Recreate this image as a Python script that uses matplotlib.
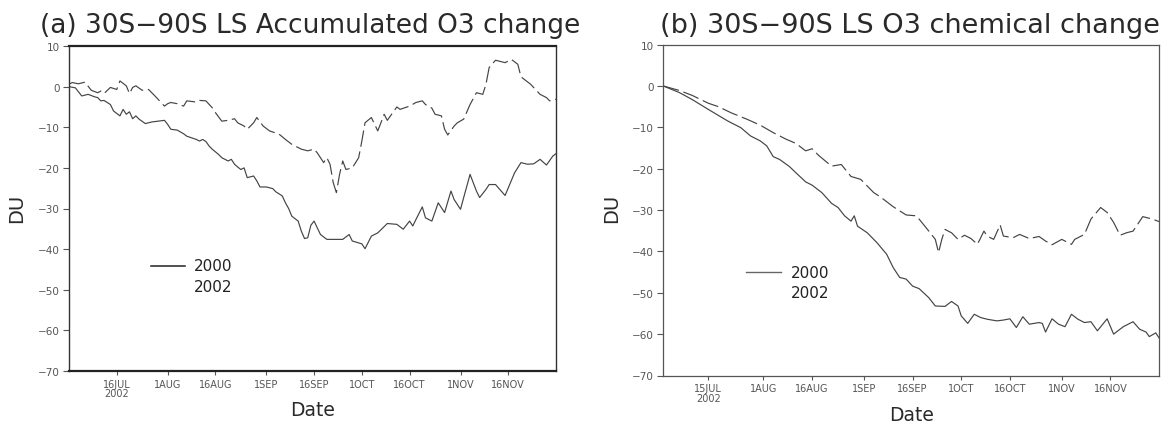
import numpy as np
import matplotlib.pyplot as plt

start = np.datetime64('2002-07-01')

# (a) accumulated O3 change, days counted from 1 July
a_days_2000 = [0, 2, 4, 6, 8, 9, 10, 11, 13, 14, 16, 17, 18, 19, 20, 21, 22, 24, 26, 28,
               30, 31, 32, 34, 36, 37, 40, 41, 42, 43, 44, 45, 47, 48, 50, 51, 52, 53, 54, 55,
               56, 58, 59, 60, 62, 64, 65, 67, 68, 69, 70, 72, 73, 74, 75, 76, 77, 79, 81, 84,
               86, 88, 89, 92, 93, 95, 97, 100, 103, 105, 107, 108, 109, 111, 112, 114, 116, 118, 120, 121,
               123, 124, 126, 128, 129, 131, 132, 134, 137, 140, 142, 144, 146, 148, 150, 152, 153]
a_vals_2000 = [0.0, -0.3, -2.3, -1.9, -2.5, -2.7, -3.5, -3.4, -4.4, -6.0, -7.2, -5.6, -6.8, -6.2, -7.9, -7.2, -8.0, -9.1, -8.7, -8.5,
               -8.3, -9.3, -10.5, -10.7, -11.6, -12.2, -13.0, -13.4, -13.0, -13.5, -14.6, -15.4, -16.7, -17.5, -18.3, -17.9, -19.1, -19.8, -20.4, -20.0,
               -22.4, -22.0, -23.2, -24.7, -24.7, -25.1, -25.9, -26.9, -28.6, -30.0, -31.9, -33.1, -35.6, -37.4, -37.2, -34.1, -33.1, -36.4, -37.6, -37.6,
               -37.6, -36.4, -38.0, -38.7, -39.9, -36.8, -36.0, -33.7, -33.9, -35.1, -33.1, -34.3, -32.7, -29.6, -32.3, -33.1, -28.6, -31.0, -25.7, -27.8,
               -30.2, -27.3, -21.6, -25.7, -27.3, -25.3, -24.1, -24.1, -26.8, -21.2, -18.7, -19.1, -19.0, -17.9, -19.3, -17.1, -16.5]

a_days_2002 = [0, 1, 3, 5, 7, 9, 10, 11, 13, 15, 16, 18, 19, 20, 21, 23, 25, 27, 30, 31,
               32, 34, 36, 37, 40, 41, 43, 45, 46, 48, 50, 52, 53, 55, 56, 58, 59, 61, 63, 66,
               68, 70, 73, 75, 77, 78, 80, 81, 82, 83, 84, 85, 86, 87, 89, 91, 92, 93, 95, 97,
               98, 99, 100, 103, 104, 107, 109, 111, 112, 114, 115, 117, 118, 119, 121, 122, 124, 126, 128, 130,
               131, 132, 134, 137, 139, 141, 142, 145, 148, 150, 151, 153]
a_vals_2002 = [0.6, 1.0, 0.7, 1.1, -0.9, -1.5, -1.1, -1.7, -0.2, -0.7, 1.4, 0.2, -1.7, -0.2, 0.2, -0.9, -0.7, -2.3, -4.8, -4.2,
               -3.9, -4.2, -4.8, -3.5, -3.8, -3.4, -3.5, -5.2, -6.4, -8.5, -8.3, -7.9, -8.9, -9.7, -10.5, -8.9, -7.6, -9.7, -10.9, -11.7,
               -13.0, -14.2, -15.4, -15.8, -15.4, -16.3, -18.7, -17.5, -19.1, -23.6, -26.1, -21.6, -18.3, -20.4, -20.0, -17.5, -13.4, -8.9, -7.6, -10.9,
               -8.9, -6.8, -8.3, -5.0, -5.6, -4.8, -3.9, -3.5, -4.4, -5.3, -6.8, -7.2, -10.5, -11.9, -9.7, -8.9, -8.0, -4.4, -1.5, -1.9,
               0.6, 4.7, 6.5, 5.9, 6.7, 5.5, 2.4, 0.6, -1.9, -2.7, -3.5, -3.1]

# (b) chemical O3 change
b_days_2000 = [0, 5, 9, 14, 20, 24, 27, 30, 32, 34, 36, 39, 41, 44, 46, 49, 52, 54, 56, 58,
               59, 60, 63, 66, 69, 71, 73, 75, 77, 79, 82, 84, 87, 89, 91, 92, 94, 96, 98, 100,
               103, 105, 107, 109, 111, 113, 116, 117, 118, 120, 122, 124, 126, 128, 130, 132, 134, 137, 139, 142,
               145, 147, 149, 150, 152, 153]
b_vals_2000 = [0.0, -1.6, -3.3, -5.7, -8.5, -10.1, -12.1, -13.3, -14.5, -17.1, -17.8, -19.5, -21.0, -23.2, -24.0, -25.8, -28.4, -29.4, -31.4, -32.7,
               -31.4, -33.9, -35.5, -37.9, -40.7, -43.9, -46.3, -46.7, -48.4, -49.0, -51.2, -53.2, -53.3, -52.1, -53.2, -55.6, -57.4, -55.2, -56.0, -56.4,
               -56.8, -56.6, -56.3, -58.4, -55.8, -57.6, -57.2, -57.4, -59.5, -56.3, -57.6, -58.2, -55.2, -56.4, -57.2, -57.0, -59.2, -56.3, -60.0, -58.2,
               -57.0, -58.8, -59.5, -60.6, -59.7, -60.9]

b_days_2002 = [0, 5, 9, 14, 17, 21, 26, 30, 34, 38, 41, 44, 46, 48, 52, 55, 58, 61, 65, 67,
               71, 75, 78, 79, 82, 84, 85, 86, 87, 89, 91, 93, 95, 97, 99, 100, 102, 104, 105, 108,
               110, 113, 116, 118, 120, 123, 126, 127, 130, 132, 135, 137, 139, 141, 143, 145, 148, 151, 153]
b_vals_2002 = [0.0, -1.1, -2.3, -4.2, -5.0, -6.5, -8.1, -9.5, -11.3, -12.9, -13.9, -15.7, -15.2, -16.8, -19.4, -19.0, -21.9, -22.6, -25.8, -26.8,
               -29.2, -31.2, -31.4, -32.2, -35.1, -37.1, -40.3, -37.1, -34.7, -35.5, -37.1, -36.1, -36.9, -38.3, -35.1, -36.3, -37.1, -33.6, -36.3, -36.7,
               -35.9, -36.9, -36.4, -37.5, -38.4, -37.1, -38.3, -37.1, -35.9, -32.2, -29.4, -30.6, -33.0, -36.1, -35.5, -35.1, -31.6, -32.2, -32.8]

# tick dates (days from 1 July) and their labels
a_tick_days = [15, 31, 46, 62, 77, 92, 107, 123, 138]
a_tick_labels = ['16JUL\n2002', '1AUG', '16AUG', '1SEP', '16SEP', '1OCT', '16OCT', '1NOV', '16NOV']
b_tick_days = [14, 31, 46, 62, 77, 92, 107, 123, 138]
b_tick_labels = ['15JUL\n2002', '1AUG', '16AUG', '1SEP', '16SEP', '1OCT', '16OCT', '1NOV', '16NOV']
y_ticks = [-70, -60, -50, -40, -30, -20, -10, 0, 10]


def to_dates(days):
    return start + np.array(days).astype('timedelta64[D]')


W, H = 1168, 427
fig = plt.figure(figsize=(W / 100, H / 100), dpi=100)


def box(l, t, r, b):
    return [l / W, 1 - b / H, (r - l) / W, (b - t) / H]


ax_a = fig.add_axes(box(69, 47, 556, 372))
ax_b = fig.add_axes(box(663, 45.5, 1159, 376.5))

line_col = '#444444'
dash = (0, (14, 4))

ax_a.plot(to_dates(a_days_2000), a_vals_2000, color=line_col, lw=0.85)
ax_a.plot(to_dates(a_days_2002), a_vals_2002, color=line_col, lw=0.85, ls=dash)
ax_b.plot(to_dates(b_days_2000), b_vals_2000, color=line_col, lw=0.85)
ax_b.plot(to_dates(b_days_2002), b_vals_2002, color=line_col, lw=0.85, ls=dash)

for ax, tdays, tlabels in [(ax_a, a_tick_days, a_tick_labels), (ax_b, b_tick_days, b_tick_labels)]:
    ax.set_xlim(start, start + np.timedelta64(153, 'D'))
    ax.set_ylim(-70, 10)
    ax.set_xticks(to_dates(tdays))
    ax.set_xticklabels(tlabels, fontsize=7, color='#555555', linespacing=0.95)
    ax.set_yticks(y_ticks)
    ax.set_yticklabels([str(v).replace('-', '\u2212') for v in y_ticks], fontsize=7.5, color='#555555')
    ax.tick_params(axis='x', direction='out', length=3, width=0.8, pad=2.5, color='#555555')
    ax.tick_params(axis='y', direction='out', length=4, width=0.8, pad=2.5, color='#555555')

# left panel has the heavier frame
for side in ['top', 'bottom']:
    ax_a.spines[side].set_linewidth(1.6)
    ax_a.spines[side].set_color('#222222')
for side in ['left', 'right']:
    ax_a.spines[side].set_linewidth(1.0)
    ax_a.spines[side].set_color('#333333')
for side in ax_b.spines:
    ax_b.spines[side].set_linewidth(0.9)
    ax_b.spines[side].set_color('#555555')

# legends: only the solid line gets a sample
ax_a.plot([0.168, 0.238], [0.324, 0.324], transform=ax_a.transAxes, color='#222222', lw=1.1)
ax_a.text(0.256, 0.324, '2000', transform=ax_a.transAxes, fontsize=11, va='center', color='#222222')
ax_a.text(0.256, 0.260, '2002', transform=ax_a.transAxes, fontsize=11, va='center', color='#222222')
ax_b.plot([0.168, 0.238], [0.312, 0.312], transform=ax_b.transAxes, color='#666666', lw=1.0)
ax_b.text(0.257, 0.312, '2000', transform=ax_b.transAxes, fontsize=11, va='center', color='#222222')
ax_b.text(0.257, 0.250, '2002', transform=ax_b.transAxes, fontsize=11, va='center', color='#222222')

# titles and axis labels
fig.text(40 / W, 1 - 33 / H, '(a) 30S\u221290S LS Accumulated O3 change', fontsize=19,
         va='baseline', ha='left', color='#2a2a2a')
fig.text(660 / W, 1 - 33 / H, '(b) 30S\u221290S LS O3 chemical change', fontsize=19.5,
         va='baseline', ha='left', color='#2a2a2a')
fig.text(17 / W, 1 - 208 / H, 'DU', fontsize=14, rotation=90, ha='center', va='center', color='#2a2a2a')
fig.text(612 / W, 1 - 208 / H, 'DU', fontsize=14, rotation=90, ha='center', va='center', color='#2a2a2a')
fig.text(313 / W, 1 - 411 / H, 'Date', fontsize=13.5, ha='center', va='center', color='#2a2a2a')
fig.text(912 / W, 1 - 416 / H, 'Date', fontsize=13.5, ha='center', va='center', color='#2a2a2a')

plt.savefig('out.png', dpi=100)
